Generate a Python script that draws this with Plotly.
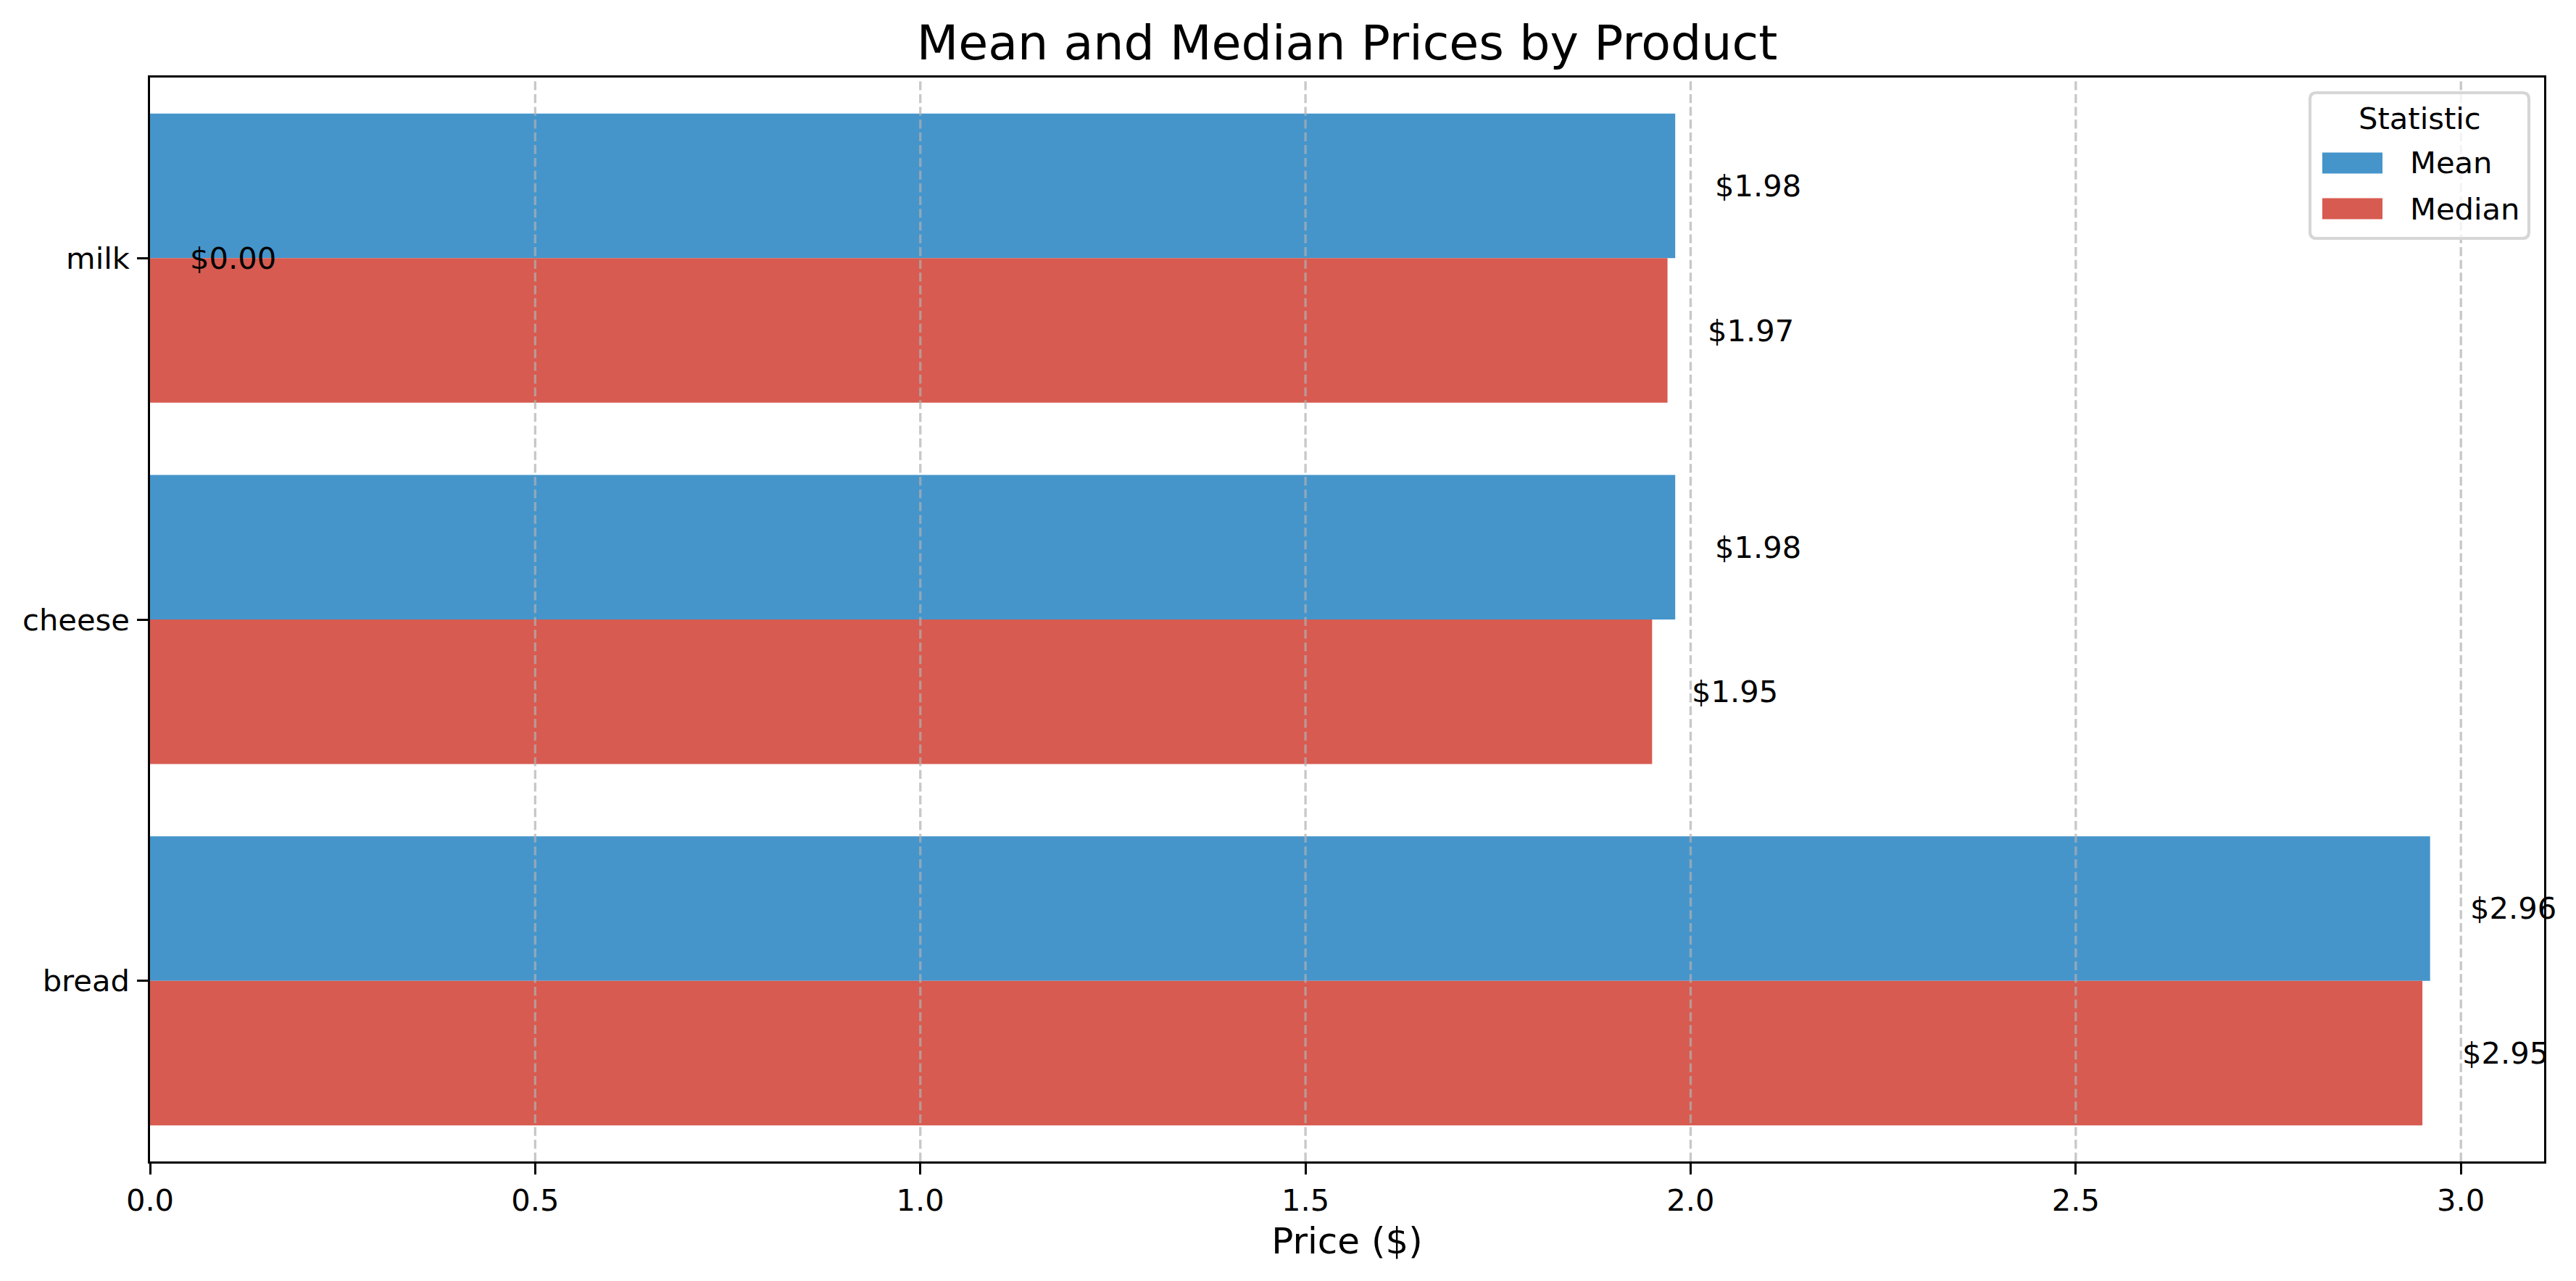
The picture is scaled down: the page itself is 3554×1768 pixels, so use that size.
import plotly.graph_objects as go

# data
products = ["milk", "cheese", "bread"]
mean_prices = [1.98, 1.98, 2.96]
median_prices = [1.97, 1.95, 2.95]
x_ticks = [0.0, 0.5, 1.0, 1.5, 2.0, 2.5, 3.0]
stray_label_value = 0.00  # the odd "$0.00" text that sits on the milk row

# style
FONT = "DejaVu Sans"
BLUE = "#4595cb"
RED = "#d75b50"
PT = 300 / 72  # px per point at 300 dpi
LABEL_PAD = 0.05
X_MAX = max(mean_prices + median_prices) * 1.05

# page is offset 8px by the browser's body margin
W, H = 3546, 1760
L, R, T, B = 199, 44, 99, 165
PW, PH = W - L - R, H - T - B


def px(xp):
    # figure pixel -> paper x
    return (xp - L) / PW


def py(yp):
    # figure pixel -> paper y
    return (H - B - yp) / PH


fig = go.Figure()

series = [("Mean", mean_prices, BLUE), ("Median", median_prices, RED)]
for name, vals, col in series:
    fig.add_trace(go.Bar(
        y=products, x=vals, orientation="h", name=name,
        marker=dict(color=col, line=dict(width=0)),
        showlegend=False,
    ))

# value labels to the right of each bar (mean sits in the upper half of a group)
annotations = []
for i, (m, md) in enumerate(zip(mean_prices, median_prices)):
    annotations.append(dict(x=m + LABEL_PAD, y=i - 0.2, text=f"${m:.2f}"))
    annotations.append(dict(x=md + LABEL_PAD, y=i + 0.2, text=f"${md:.2f}"))
annotations.append(dict(x=stray_label_value + LABEL_PAD, y=0, text=f"${stray_label_value:.2f}"))
for a in annotations:
    a.update(xref="x", yref="y", xanchor="left", yanchor="middle", showarrow=False,
             font=dict(family=FONT, size=10 * PT, color="black"))

# dashed x grid drawn over the bars, like matplotlib does
shapes = []
for t in x_ticks[1:]:
    shapes.append(dict(type="line", xref="x", yref="paper", x0=t, x1=t, y0=0, y1=1,
                       layer="above",
                       line=dict(color="rgba(176,176,176,0.7)", width=0.8 * PT,
                                 dash="12.3px,5.3px")))

# matplotlib-like legend box (upper right)
bx0, bx1, by0, by1, rad = 3179, 3481, 120, 321, 9
rx, ry = rad / PW, rad / PH
x0, x1, y0, y1 = px(bx0), px(bx1), py(by1), py(by0)
path = (f"M{x0 + rx},{y0} L{x1 - rx},{y0} Q{x1},{y0} {x1},{y0 + ry} "
        f"L{x1},{y1 - ry} Q{x1},{y1} {x1 - rx},{y1} L{x0 + rx},{y1} "
        f"Q{x0},{y1} {x0},{y1 - ry} L{x0},{y0 + ry} Q{x0},{y0} {x0 + rx},{y0} Z")
shapes.append(dict(type="path", path=path, xref="paper", yref="paper", layer="above",
                   fillcolor="rgba(255,255,255,0.8)",
                   line=dict(color="#d6d6d6", width=1.0 * PT)))
annotations.append(dict(x=px((bx0 + bx1) / 2), y=py(155), xref="paper", yref="paper",
                        text="Statistic", showarrow=False, xanchor="center",
                        yanchor="middle", font=dict(family=FONT, size=10 * PT)))
for k, (name, _, col) in enumerate(series):
    cy = 217 + k * 63
    shapes.append(dict(type="rect", xref="paper", yref="paper", layer="above",
                       x0=px(3196), x1=px(3279), y0=py(cy + 14.5), y1=py(cy - 14.5),
                       fillcolor=col, line=dict(width=0)))
    annotations.append(dict(x=px(3315), y=py(cy), xref="paper", yref="paper",
                            text=name, showarrow=False, xanchor="left",
                            yanchor="middle", font=dict(family=FONT, size=10 * PT)))

fig.update_layout(
    width=W, height=H,
    margin=dict(l=L, r=R, t=T, b=B),
    paper_bgcolor="white", plot_bgcolor="white",
    font=dict(family=FONT, size=10 * PT, color="black"),
    barmode="group", bargap=0.2, bargroupgap=0,
    title=dict(text="Mean and Median Prices by Product", x=0.5, xref="paper",
               xanchor="center", y=1 - 51 / H, yref="container", yanchor="middle",
               font=dict(family=FONT, size=16 * PT, color="black")),
    annotations=annotations,
    shapes=shapes,
    showlegend=False,
)

fig.update_xaxes(
    range=[0, X_MAX], tickvals=x_ticks, tickformat=".1f",
    showgrid=False, zeroline=False,
    showline=True, mirror=True, linecolor="black", linewidth=0.8 * PT,
    ticks="outside", ticklen=3.5 * PT, tickwidth=0.8 * PT, tickcolor="black",
    title=dict(text="Price ($)", font=dict(family=FONT, size=12 * PT), standoff=16),
)
fig.update_yaxes(
    categoryorder="array", categoryarray=products, range=[2.5, -0.5],
    showgrid=False, zeroline=False,
    showline=True, mirror=True, linecolor="black", linewidth=0.8 * PT,
    ticks="outside", ticklen=3.5 * PT, tickwidth=0.8 * PT, tickcolor="black",
    ticklabelstandoff=2,
)

fig.write_html("out.html")
